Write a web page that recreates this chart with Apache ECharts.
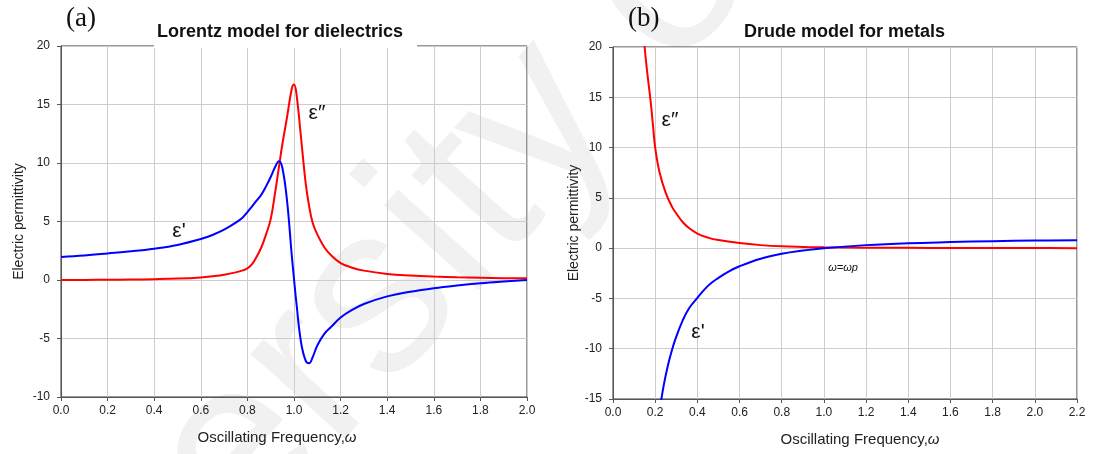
<!DOCTYPE html>
<html>
<head>
<meta charset="utf-8">
<script src="https://cdn.jsdelivr.net/npm/echarts@6/dist/echarts.min.js"></script>
<style>
html, body { margin: 0; padding: 0; background: #fff; }
#main { width: 1096px; height: 454px; }
</style>
</head>
<body>
<div id="main"></div>
<script>
// Lorentz model (a)
const lorentzW = [0.0, 0.1, 0.2, 0.3, 0.4, 0.5, 0.6, 0.65, 0.7, 0.75, 0.78, 0.8, 0.82, 0.84, 0.86, 0.88, 0.9, 0.92, 0.935, 0.95, 0.97, 0.99, 1.0, 1.01, 1.03, 1.05, 1.065, 1.08, 1.1, 1.13, 1.16, 1.2, 1.25, 1.3, 1.4, 1.5, 1.6, 1.7, 1.8, 1.9, 2.0];
const lorentzEps1 = [1.97, 2.1, 2.27, 2.45, 2.68, 3.0, 3.5, 3.85, 4.3, 4.9, 5.35, 5.8, 6.3, 6.8, 7.3, 8.0, 8.8, 9.7, 10.15, 9.6, 6.8, 2.2, 0.1, -1.9, -5.3, -6.9, -7.12, -6.6, -5.6, -4.6, -4.0, -3.2, -2.55, -2.05, -1.4, -1.0, -0.7, -0.47, -0.28, -0.13, 0.0];
const lorentzEps2 = [0.0, 0.01, 0.02, 0.04, 0.07, 0.12, 0.22, 0.32, 0.45, 0.65, 0.82, 1.0, 1.35, 2.0, 2.8, 3.9, 5.2, 7.6, 9.6, 11.6, 13.9, 16.3, 16.7, 16.0, 12.2, 8.3, 6.3, 4.9, 3.9, 2.8, 2.1, 1.45, 1.05, 0.8, 0.52, 0.38, 0.29, 0.23, 0.19, 0.16, 0.14];

// Drude model (b)
const drudeW1 = [0.22, 0.24, 0.26, 0.28, 0.3, 0.33, 0.36, 0.4, 0.45, 0.5, 0.55, 0.6, 0.7, 0.8, 0.9, 1.0, 1.2, 1.4, 1.6, 1.8, 2.0, 2.2];
const drudeEps1 = [-16.3, -13.7, -11.7, -10.1, -8.8, -7.2, -6.0, -4.95, -3.75, -2.95, -2.3, -1.8, -1.05, -0.56, -0.24, 0.0, 0.3, 0.49, 0.6, 0.69, 0.75, 0.79];
const drudeW2 = [0.14, 0.15, 0.16, 0.17, 0.18, 0.19, 0.2, 0.22, 0.25, 0.28, 0.3, 0.33, 0.36, 0.4, 0.45, 0.5, 0.6, 0.7, 0.8, 0.9, 1.0, 1.2, 1.4, 1.6, 1.8, 2.0, 2.2];
const drudeEps2 = [22.5, 20.0, 17.9, 16.1, 14.3, 12.1, 10.0, 7.6, 5.5, 4.1, 3.45, 2.6, 2.0, 1.45, 1.05, 0.8, 0.5, 0.3, 0.18, 0.12, 0.08, 0.05, 0.03, 0.02, 0.01, 0.01, 0.0];

const pairs = (xs, ys) => xs.map((x, i) => [x, ys[i]]);

const chart = echarts.init(document.getElementById('main'));
const FONT = '"Liberation Sans", Arial, sans-serif';

function xAxisOf(idx, max, namePad) {
    return {
        gridIndex: idx,
        type: 'value',
        min: 0, max: max, interval: 0.2,
        name: 'Oscillating Frequency,{w|ω}',
        nameLocation: 'middle',
        nameGap: 33,
        nameTextStyle: {
            color: '#222', fontSize: 15, fontFamily: FONT, padding: namePad,
            rich: {w: {fontSize: 15, fontStyle: 'italic', fontFamily: FONT, color: '#222'}}
        },
        axisLine: {show: true, onZero: false, lineStyle: {color: '#555'}},
        axisTick: {show: true, length: 4, lineStyle: {color: '#555'}},
        axisLabel: {color: '#222', fontSize: 12, fontFamily: FONT, margin: 8,
            formatter: v => v.toFixed(1)},
        splitLine: {show: true, lineStyle: {color: '#cccccc'}}
    };
}

function yAxisOf(idx, min, gap) {
    return {
        gridIndex: idx,
        type: 'value',
        min: min, max: 20, interval: 5,
        name: 'Electric permittivity',
        nameLocation: 'middle',
        nameGap: gap,
        nameTextStyle: {color: '#222', fontSize: 14, fontFamily: FONT},
        axisLine: {show: true, onZero: false, lineStyle: {color: '#555'}},
        axisTick: {show: true, length: 4, lineStyle: {color: '#555'}},
        axisLabel: {color: '#222', fontSize: 12, fontFamily: FONT, margin: 11},
        splitLine: {show: true, lineStyle: {color: '#cccccc'}}
    };
}

function lineOf(idx, data, color) {
    return {
        type: 'line',
        xAxisIndex: idx, yAxisIndex: idx,
        data: data,
        showSymbol: false,
        smooth: 0.4,
        clip: true,
        lineStyle: {color: color, width: 2},
        itemStyle: {color: color}
    };
}

const epsStyle = {fill: '#111', fontSize: 21, fontFamily: FONT, textAlign: 'center', textVerticalAlign: 'middle'};

const option = {
    backgroundColor: '#fff',
    animation: false,
    title: [{
        text: 'Lorentz model for dielectrics',
        left: 154, top: 19,
        backgroundColor: '#fff',
        padding: [4, 14, 7, 3],
        textStyle: {fontSize: 18, fontWeight: 'bold', fontFamily: FONT, color: '#111'}
    }, {
        text: 'Drude model for metals',
        left: 744, top: 19,
        padding: [4, 0, 0, 0],
        textStyle: {fontSize: 18, fontWeight: 'bold', fontFamily: FONT, color: '#111'}
    }],
    grid: [
        {left: 61, top: 46, width: 466, height: 351, show: true, borderColor: '#333', borderWidth: 1, z: 0},
        {left: 613, top: 47, width: 464, height: 352, show: true, borderColor: '#333', borderWidth: 1, z: 0}
    ],
    xAxis: [xAxisOf(0, 2.0, [0, 34, 0, 0]), xAxisOf(1, 2.2, [0, 0, 0, 30])],
    yAxis: [yAxisOf(0, -10, 35), yAxisOf(1, -15, 30)],
    series: [
        lineOf(0, pairs(lorentzW, lorentzEps2), '#ff0000'),
        lineOf(0, pairs(lorentzW, lorentzEps1), '#0000ff'),
        lineOf(1, pairs(drudeW2, drudeEps2), '#ff0000'),
        lineOf(1, pairs(drudeW1, drudeEps1), '#0000ff')
    ],
    graphic: [
        // faint watermark behind the plots
        {type: 'text', x: 115, y: 595, rotation: 48 * Math.PI / 180, z: -10, silent: true,
            style: {text: 'versity of', fill: '#f1f1f1', fontSize: 240, fontFamily: FONT,
                textAlign: 'left', textVerticalAlign: 'middle'}},
        {type: 'text', left: 66, top: 5, z: 10,
            style: {text: '(a)', fill: '#111', fontSize: 27, fontFamily: '"Liberation Serif", serif'}},
        {type: 'text', left: 628, top: 5, z: 10,
            style: {text: '(b)', fill: '#111', fontSize: 27, fontFamily: '"Liberation Serif", serif'}},
        {type: 'text', x: 179, y: 231, z: 10, style: Object.assign({text: "ε'"}, epsStyle)},
        {type: 'text', x: 317, y: 113, z: 10, style: Object.assign({text: 'ε\u2033'}, epsStyle)},
        {type: 'text', x: 670, y: 120, z: 10, style: Object.assign({text: 'ε\u2033'}, epsStyle)},
        {type: 'text', x: 698, y: 332, z: 10, style: Object.assign({text: "ε'"}, epsStyle)},
        {type: 'text', x: 843, y: 268, z: 10,
            style: {text: 'ω=ωp', fill: '#111', fontSize: 11, fontStyle: 'italic', fontFamily: FONT,
                textAlign: 'center', textVerticalAlign: 'middle'}}
    ]
};

chart.setOption(option);
</script>
</body>
</html>
